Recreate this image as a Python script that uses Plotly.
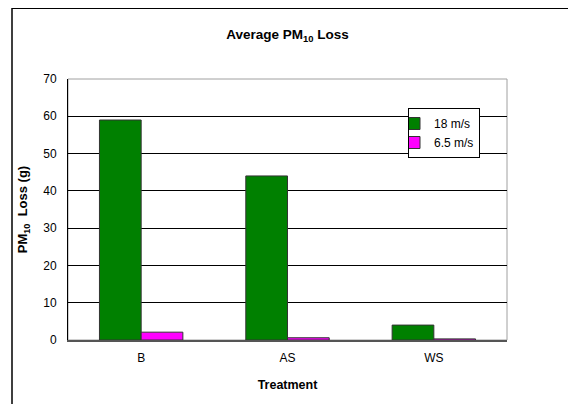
import plotly.graph_objects as go

categories = ["B", "AS", "WS"]
fast_values = [59, 44, 4]        # 18 m/s
slow_values = [2.1, 0.6, 0.3]    # 6.5 m/s
y_ticks = [0, 10, 20, 30, 40, 50, 60, 70]

# page body adds an 8px offset; work in reference pixel coords and subtract it
OFF = 8
W, H = 576 - OFF, 404 - OFF
PL, PR, PT, PB = 68, 507, 79, 340          # plot area in reference pixels
L, R, T, B = PL - OFF, W - (PR - OFF), PT - OFF, H - (PB - OFF)
pw, ph = W - L - R, H - T - B

def px_x(x):
    return (x - OFF - L) / pw

def px_y(y):
    return (H - B - (y - OFF)) / ph

fig = go.Figure()
fig.add_trace(go.Bar(x=categories, y=fast_values, name="18 m/s",
                     marker=dict(color="#008000", line=dict(color="#333333", width=1))))
fig.add_trace(go.Bar(x=categories, y=slow_values, name="6.5 m/s",
                     marker=dict(color="#ff00ff", line=dict(color="#333333", width=1))))

font = "Liberation Sans, Arial, sans-serif"
fig.update_layout(
    width=W, height=H,
    margin=dict(l=L, r=R, t=T, b=B, autoexpand=False),
    paper_bgcolor="white", plot_bgcolor="white",
    barmode="group", bargap=0.43, bargroupgap=0,
    font=dict(family=font, size=12, color="black"),
    title=dict(text="<b>Average PM<sub>10</sub> Loss</b>", x=0.5, xref="paper",
               xanchor="center", y=1 - (34 - OFF) / H, yanchor="middle",
               font=dict(size=13.5)),
    legend=dict(x=px_x(480), y=px_y(108), xanchor="right", yanchor="top",
                bordercolor="black", borderwidth=1, bgcolor="white",
                font=dict(size=12), itemwidth=30, indentation=-15),
    showlegend=True,
    xaxis=dict(title=dict(text="<b>Treatment</b>", font=dict(size=12.5), standoff=16),
               showline=True, linecolor="#555555", linewidth=2, mirror=False,
               ticks="", ticklabelstandoff=6, tickfont=dict(size=12)),
    yaxis=dict(title=dict(text="<b>PM<sub>10</sub>&nbsp; Loss (g)</b>", font=dict(size=13), standoff=12),
               range=[0, 70], tickvals=y_ticks, showgrid=True, gridcolor="black",
               gridwidth=1, showline=True, linecolor="black", linewidth=1,
               ticks="", ticklabelstandoff=8, zeroline=False,
               tickfont=dict(size=12)),
    shapes=[
        dict(type="rect", xref="paper", yref="paper", x0=0, x1=1, y0=0, y1=1,
             line=dict(color="#a0a0a0", width=1), layer="below"),
        dict(type="rect", xref="paper", yref="paper",
             x0=px_x(12), x1=px_x(620), y0=px_y(440), y1=px_y(8.2),
             line=dict(color="black", width=1.5)),
    ],
)
fig.write_html("out.html")
